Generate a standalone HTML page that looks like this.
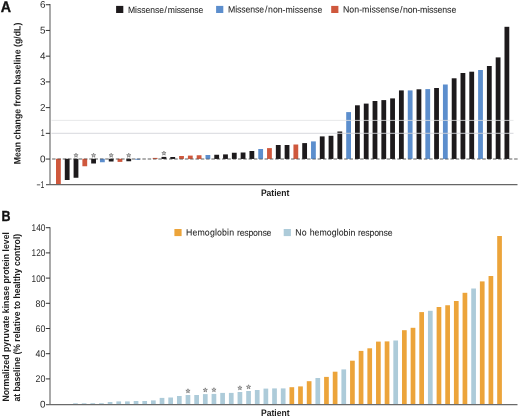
<!DOCTYPE html>
<html lang="en"><head><meta charset="utf-8"><title>Figure</title>
<style>
html,body{margin:0;padding:0;background:#fff;}
body{width:520px;height:418px;overflow:hidden;}
svg{display:block;font-family:"Liberation Sans",sans-serif;text-rendering:geometricPrecision;}
.t{font-size:9.2px;fill:#222;stroke:#222;stroke-width:0.06px;}
.n{font-size:9.7px;fill:#2a2a2a;}
.b{font-size:9.4px;font-weight:bold;fill:#1c1c1c;}
.p{font-size:14.6px;font-weight:bold;fill:#111;stroke:#111;stroke-width:0.35px;}
</style></head><body>
<svg width="520" height="418" viewBox="0 0 520 418">
<rect width="520" height="418" fill="#fff"/>
<g id="panelA">
<text class="p" style="font-size:15.3px" transform="translate(0.80,11.85) rotate(0.03) scale(0.9322,1.0000)">A</text>
<line x1="52.1" y1="159.0" x2="517.6" y2="159.0" stroke="#a9a9a9" stroke-width="1.2" stroke-dasharray="3.45 1.861"/>
<rect x="56.00" y="158.80" width="4.80" height="25.60" fill="#cf583d"/>
<rect x="64.79" y="158.80" width="4.80" height="21.20" fill="#1d1a1c"/>
<rect x="73.59" y="158.80" width="4.80" height="18.95" fill="#1d1a1c"/>
<rect x="82.38" y="158.80" width="4.80" height="7.45" fill="#cf583d"/>
<rect x="91.18" y="158.80" width="4.80" height="4.70" fill="#1d1a1c"/>
<rect x="99.97" y="158.80" width="4.80" height="3.45" fill="#5c8ecd"/>
<rect x="108.76" y="158.80" width="4.80" height="2.70" fill="#1d1a1c"/>
<rect x="117.56" y="158.80" width="4.80" height="3.10" fill="#cf583d"/>
<rect x="126.35" y="158.80" width="4.80" height="2.45" fill="#1d1a1c"/>
<rect x="135.15" y="158.80" width="4.80" height="0.90" fill="#5c8ecd"/>
<rect x="152.73" y="157.90" width="4.80" height="1.05" fill="#cf583d"/>
<rect x="161.53" y="156.90" width="4.80" height="2.05" fill="#1d1a1c"/>
<rect x="170.32" y="157.00" width="4.80" height="1.95" fill="#1d1a1c"/>
<rect x="179.12" y="156.00" width="4.80" height="2.95" fill="#cf583d"/>
<rect x="187.91" y="155.60" width="4.80" height="3.35" fill="#cf583d"/>
<rect x="196.70" y="155.25" width="4.80" height="3.70" fill="#cf583d"/>
<rect x="205.50" y="155.00" width="4.80" height="3.95" fill="#5c8ecd"/>
<rect x="214.29" y="154.75" width="4.80" height="4.20" fill="#1d1a1c"/>
<rect x="223.09" y="154.40" width="4.80" height="4.55" fill="#1d1a1c"/>
<rect x="231.88" y="152.75" width="4.80" height="6.20" fill="#1d1a1c"/>
<rect x="240.67" y="152.50" width="4.80" height="6.45" fill="#1d1a1c"/>
<rect x="249.47" y="151.00" width="4.80" height="7.95" fill="#1d1a1c"/>
<rect x="258.26" y="149.00" width="4.80" height="9.95" fill="#5c8ecd"/>
<rect x="267.06" y="148.10" width="4.80" height="10.85" fill="#cf583d"/>
<rect x="275.85" y="145.00" width="4.80" height="13.95" fill="#1d1a1c"/>
<rect x="284.64" y="145.00" width="4.80" height="13.95" fill="#1d1a1c"/>
<rect x="293.44" y="144.50" width="4.80" height="14.45" fill="#cf583d"/>
<rect x="302.23" y="143.10" width="4.80" height="15.85" fill="#1d1a1c"/>
<rect x="311.03" y="141.40" width="4.80" height="17.55" fill="#5c8ecd"/>
<rect x="319.82" y="136.40" width="4.80" height="22.55" fill="#1d1a1c"/>
<rect x="328.61" y="135.80" width="4.80" height="23.15" fill="#1d1a1c"/>
<rect x="337.41" y="131.50" width="4.80" height="27.45" fill="#1d1a1c"/>
<rect x="346.20" y="112.10" width="4.80" height="46.85" fill="#5c8ecd"/>
<rect x="355.00" y="105.30" width="4.80" height="53.65" fill="#1d1a1c"/>
<rect x="363.79" y="103.60" width="4.80" height="55.35" fill="#1d1a1c"/>
<rect x="372.58" y="101.00" width="4.80" height="57.95" fill="#1d1a1c"/>
<rect x="381.38" y="100.10" width="4.80" height="58.85" fill="#1d1a1c"/>
<rect x="390.17" y="98.40" width="4.80" height="60.55" fill="#1d1a1c"/>
<rect x="398.97" y="90.40" width="4.80" height="68.55" fill="#1d1a1c"/>
<rect x="407.76" y="90.40" width="4.80" height="68.55" fill="#5c8ecd"/>
<rect x="416.55" y="89.30" width="4.80" height="69.65" fill="#1d1a1c"/>
<rect x="425.35" y="89.10" width="4.80" height="69.85" fill="#5c8ecd"/>
<rect x="434.14" y="88.00" width="4.80" height="70.95" fill="#1d1a1c"/>
<rect x="442.94" y="84.50" width="4.80" height="74.45" fill="#5c8ecd"/>
<rect x="451.73" y="78.30" width="4.80" height="80.65" fill="#1d1a1c"/>
<rect x="460.52" y="73.00" width="4.80" height="85.95" fill="#1d1a1c"/>
<rect x="469.32" y="71.70" width="4.80" height="87.25" fill="#1d1a1c"/>
<rect x="478.11" y="70.00" width="4.80" height="88.95" fill="#5c8ecd"/>
<rect x="486.91" y="66.00" width="4.80" height="92.95" fill="#1d1a1c"/>
<rect x="495.70" y="57.40" width="4.80" height="101.55" fill="#1d1a1c"/>
<rect x="504.49" y="26.80" width="4.80" height="132.15" fill="#1d1a1c"/>
<line x1="52.1" y1="159.0" x2="517.6" y2="159.0" stroke="#333" opacity="0.45" stroke-width="1.2" stroke-dasharray="3.45 1.861"/>
<line x1="51.5" y1="120.4" x2="513.5" y2="120.4" stroke="#e1e3e4" stroke-width="0.8"/>
<line x1="51.5" y1="133.3" x2="513.5" y2="133.3" stroke="#d3d5d9" stroke-width="0.9"/>
<polygon points="75.99,153.15 76.52,154.67 78.13,154.70 76.84,155.68 77.31,157.22 75.99,156.30 74.67,157.22 75.13,155.68 73.85,154.70 75.46,154.67" fill="#d0d0d0" stroke="#4a4a4a" stroke-width="0.5"/>
<polygon points="93.58,153.15 94.11,154.67 95.72,154.70 94.43,155.68 94.90,157.22 93.58,156.30 92.25,157.22 92.72,155.68 91.44,154.70 93.05,154.67" fill="#d0d0d0" stroke="#4a4a4a" stroke-width="0.5"/>
<polygon points="111.16,153.15 111.69,154.67 113.30,154.70 112.02,155.68 112.49,157.22 111.16,156.30 109.84,157.22 110.31,155.68 109.02,154.70 110.63,154.67" fill="#d0d0d0" stroke="#4a4a4a" stroke-width="0.5"/>
<polygon points="128.75,153.15 129.28,154.67 130.89,154.70 129.61,155.68 130.07,157.22 128.75,156.30 127.43,157.22 127.90,155.68 126.61,154.70 128.22,154.67" fill="#d0d0d0" stroke="#4a4a4a" stroke-width="0.5"/>
<polygon points="163.93,151.05 164.46,152.57 166.07,152.60 164.78,153.58 165.25,155.12 163.93,154.20 162.61,155.12 163.07,153.58 161.79,152.60 163.40,152.57" fill="#d0d0d0" stroke="#4a4a4a" stroke-width="0.5"/>
<line x1="50" y1="4" x2="50" y2="184.9" stroke="#8c8c8c" stroke-width="1.5"/>
<line x1="46" y1="184.6" x2="517.5" y2="184.6" stroke="#666" stroke-width="1.05"/>
<line x1="45.8" y1="159.05" x2="50" y2="159.05" stroke="#333" stroke-width="1"/>
<line x1="45.8" y1="133.33" x2="50" y2="133.33" stroke="#333" stroke-width="1"/>
<line x1="45.8" y1="107.61" x2="50" y2="107.61" stroke="#333" stroke-width="1"/>
<line x1="45.8" y1="81.89" x2="50" y2="81.89" stroke="#333" stroke-width="1"/>
<line x1="45.8" y1="56.17" x2="50" y2="56.17" stroke="#333" stroke-width="1"/>
<line x1="45.8" y1="30.45" x2="50" y2="30.45" stroke="#333" stroke-width="1"/>
<line x1="45.8" y1="4.73" x2="50" y2="4.73" stroke="#333" stroke-width="1"/>
<text class="n" transform="translate(40.00,7.83) rotate(0.03) scale(1.0195,1.0000)">6</text>
<text class="n" transform="translate(40.00,33.55) rotate(0.03) scale(1.0195,1.0000)">5</text>
<text class="n" transform="translate(40.00,59.27) rotate(0.03) scale(1.0195,1.0000)">4</text>
<text class="n" transform="translate(40.00,84.99) rotate(0.03) scale(1.0195,1.0000)">3</text>
<text class="n" transform="translate(40.00,110.71) rotate(0.03) scale(1.0195,1.0000)">2</text>
<text class="n" transform="translate(40.70,136.43) rotate(0.03) scale(0.7229,1.0000)">1</text>
<text class="n" transform="translate(40.00,162.15) rotate(0.03) scale(1.0195,1.0000)">0</text>
<text class="n" transform="translate(36.40,187.87) rotate(0.03) scale(0.7143,1.0000)">−1</text>
<text class="b" transform="translate(20.40,164.30) rotate(-89.97) scale(0.9343,1.0000)">Mean change from baseline (g/dL)</text>
<text class="b" transform="translate(260.90,195.90) rotate(0.03) scale(0.9126,1.0000)">Patient</text>
<rect x="116.10" y="5.90" width="7.20" height="7.10" fill="#1d1a1c"/>
<text class="t" transform="translate(128.00,12.60) rotate(0.03) scale(0.9318,1.0000)"><tspan style="letter-spacing:-0.041px">Missense</tspan><tspan dx="0.64" style="letter-spacing:1.200px">/</tspan><tspan dx="-0.11" style="letter-spacing:-0.109px">missense</tspan></text>
<rect x="216.10" y="5.90" width="7.20" height="7.10" fill="#5c8ecd"/>
<text class="t" transform="translate(228.00,12.60) rotate(0.03) scale(0.9505,1.0000)"><tspan style="letter-spacing:-0.123px">Missense</tspan><tspan dx="1.16" style="letter-spacing:1.126px">/</tspan><tspan dx="-0.53" style="letter-spacing:-0.012px">non-missense</tspan></text>
<rect x="331.20" y="5.90" width="7.20" height="7.10" fill="#cf583d"/>
<text class="t" transform="translate(343.00,12.60) rotate(0.03) scale(0.9543,1.0000)"><tspan style="letter-spacing:0.025px">Non-missense</tspan><tspan dx="0.73" style="letter-spacing:1.112px">/</tspan><tspan dx="-0.63" style="letter-spacing:-0.118px">non-missense</tspan></text>
</g>
<g id="panelB">
<text class="p" transform="translate(1.40,220.60) rotate(0.03) scale(0.8536,1.0000)">B</text>
<rect x="55.80" y="404.00" width="4.70" height="0.40" fill="#adcbd9"/>
<rect x="64.45" y="404.00" width="4.70" height="0.40" fill="#adcbd9"/>
<rect x="73.11" y="403.30" width="4.70" height="1.10" fill="#adcbd9"/>
<rect x="81.76" y="403.30" width="4.70" height="1.10" fill="#adcbd9"/>
<rect x="90.42" y="403.20" width="4.70" height="1.20" fill="#adcbd9"/>
<rect x="99.07" y="403.20" width="4.70" height="1.20" fill="#adcbd9"/>
<rect x="107.73" y="402.00" width="4.70" height="2.40" fill="#adcbd9"/>
<rect x="116.38" y="401.40" width="4.70" height="3.00" fill="#adcbd9"/>
<rect x="125.04" y="401.40" width="4.70" height="3.00" fill="#adcbd9"/>
<rect x="133.69" y="401.00" width="4.70" height="3.40" fill="#adcbd9"/>
<rect x="142.35" y="401.00" width="4.70" height="3.40" fill="#adcbd9"/>
<rect x="151.00" y="400.40" width="4.70" height="4.00" fill="#adcbd9"/>
<rect x="159.66" y="397.90" width="4.70" height="6.50" fill="#adcbd9"/>
<rect x="168.31" y="397.50" width="4.70" height="6.90" fill="#adcbd9"/>
<rect x="176.97" y="396.00" width="4.70" height="8.40" fill="#adcbd9"/>
<rect x="185.62" y="395.00" width="4.70" height="9.40" fill="#adcbd9"/>
<rect x="194.28" y="395.00" width="4.70" height="9.40" fill="#adcbd9"/>
<rect x="202.94" y="394.10" width="4.70" height="10.30" fill="#adcbd9"/>
<rect x="211.59" y="393.90" width="4.70" height="10.50" fill="#adcbd9"/>
<rect x="220.25" y="392.90" width="4.70" height="11.50" fill="#adcbd9"/>
<rect x="228.90" y="392.90" width="4.70" height="11.50" fill="#adcbd9"/>
<rect x="237.56" y="392.00" width="4.70" height="12.40" fill="#adcbd9"/>
<rect x="246.21" y="391.00" width="4.70" height="13.40" fill="#adcbd9"/>
<rect x="254.87" y="390.00" width="4.70" height="14.40" fill="#adcbd9"/>
<rect x="263.52" y="388.60" width="4.70" height="15.80" fill="#adcbd9"/>
<rect x="272.17" y="388.40" width="4.70" height="16.00" fill="#adcbd9"/>
<rect x="280.83" y="388.40" width="4.70" height="16.00" fill="#adcbd9"/>
<rect x="289.48" y="387.20" width="4.70" height="17.20" fill="#eca43a"/>
<rect x="298.14" y="386.40" width="4.70" height="18.00" fill="#eca43a"/>
<rect x="306.79" y="381.20" width="4.70" height="23.20" fill="#eca43a"/>
<rect x="315.45" y="378.00" width="4.70" height="26.40" fill="#adcbd9"/>
<rect x="324.11" y="376.90" width="4.70" height="27.50" fill="#eca43a"/>
<rect x="332.76" y="371.70" width="4.70" height="32.70" fill="#eca43a"/>
<rect x="341.41" y="369.40" width="4.70" height="35.00" fill="#adcbd9"/>
<rect x="350.07" y="360.70" width="4.70" height="43.70" fill="#eca43a"/>
<rect x="358.72" y="350.90" width="4.70" height="53.50" fill="#eca43a"/>
<rect x="367.38" y="348.30" width="4.70" height="56.10" fill="#eca43a"/>
<rect x="376.03" y="341.60" width="4.70" height="62.80" fill="#eca43a"/>
<rect x="384.69" y="341.40" width="4.70" height="63.00" fill="#eca43a"/>
<rect x="393.34" y="340.50" width="4.70" height="63.90" fill="#adcbd9"/>
<rect x="402.00" y="330.20" width="4.70" height="74.20" fill="#eca43a"/>
<rect x="410.65" y="327.80" width="4.70" height="76.60" fill="#eca43a"/>
<rect x="419.31" y="312.10" width="4.70" height="92.30" fill="#eca43a"/>
<rect x="427.96" y="310.80" width="4.70" height="93.60" fill="#adcbd9"/>
<rect x="436.62" y="307.00" width="4.70" height="97.40" fill="#eca43a"/>
<rect x="445.27" y="305.25" width="4.70" height="99.15" fill="#eca43a"/>
<rect x="453.93" y="301.00" width="4.70" height="103.40" fill="#eca43a"/>
<rect x="462.58" y="292.80" width="4.70" height="111.60" fill="#eca43a"/>
<rect x="471.24" y="288.50" width="4.70" height="115.90" fill="#adcbd9"/>
<rect x="479.89" y="281.40" width="4.70" height="123.00" fill="#eca43a"/>
<rect x="488.55" y="276.00" width="4.70" height="128.40" fill="#eca43a"/>
<rect x="497.20" y="236.00" width="4.70" height="168.40" fill="#eca43a"/>
<polygon points="187.97,388.75 188.50,390.27 190.11,390.30 188.83,391.28 189.30,392.82 187.97,391.90 186.65,392.82 187.12,391.28 185.84,390.30 187.45,390.27" fill="#d0d0d0" stroke="#4a4a4a" stroke-width="0.5"/>
<polygon points="205.28,387.85 205.81,389.37 207.42,389.40 206.14,390.38 206.61,391.92 205.28,391.00 203.96,391.92 204.43,390.38 203.15,389.40 204.76,389.37" fill="#d0d0d0" stroke="#4a4a4a" stroke-width="0.5"/>
<polygon points="213.94,387.65 214.47,389.17 216.08,389.20 214.80,390.18 215.26,391.72 213.94,390.80 212.62,391.72 213.08,390.18 211.80,389.20 213.41,389.17" fill="#d0d0d0" stroke="#4a4a4a" stroke-width="0.5"/>
<polygon points="239.91,385.75 240.43,387.27 242.04,387.30 240.76,388.28 241.23,389.82 239.91,388.90 238.58,389.82 239.05,388.28 237.77,387.30 239.38,387.27" fill="#d0d0d0" stroke="#4a4a4a" stroke-width="0.5"/>
<polygon points="248.56,384.75 249.09,386.27 250.70,386.30 249.42,387.28 249.88,388.82 248.56,387.90 247.24,388.82 247.70,387.28 246.42,386.30 248.03,386.27" fill="#d0d0d0" stroke="#4a4a4a" stroke-width="0.5"/>
<line x1="50" y1="227.3" x2="50" y2="404.9" stroke="#8c8c8c" stroke-width="1.5"/>
<line x1="46" y1="404.65" x2="517.5" y2="404.65" stroke="#6a6a6a" stroke-width="1.1"/>
<line x1="45.8" y1="378.90" x2="50" y2="378.90" stroke="#333" stroke-width="1"/>
<line x1="45.8" y1="353.70" x2="50" y2="353.70" stroke="#333" stroke-width="1"/>
<line x1="45.8" y1="328.50" x2="50" y2="328.50" stroke="#333" stroke-width="1"/>
<line x1="45.8" y1="303.30" x2="50" y2="303.30" stroke="#333" stroke-width="1"/>
<line x1="45.8" y1="278.10" x2="50" y2="278.10" stroke="#333" stroke-width="1"/>
<line x1="45.8" y1="252.90" x2="50" y2="252.90" stroke="#333" stroke-width="1"/>
<line x1="45.8" y1="227.70" x2="50" y2="227.70" stroke="#333" stroke-width="1"/>
<text class="n" transform="translate(40.00,407.50) rotate(0.03) scale(1.0195,1.0000)">0</text>
<text class="n" transform="translate(35.50,382.30) rotate(0.03) scale(0.9083,1.0000)">20</text>
<text class="n" transform="translate(35.50,357.10) rotate(0.03) scale(0.9083,1.0000)">40</text>
<text class="n" transform="translate(35.50,331.90) rotate(0.03) scale(0.9083,1.0000)">60</text>
<text class="n" transform="translate(35.50,306.70) rotate(0.03) scale(0.9083,1.0000)">80</text>
<text class="n" transform="translate(31.60,281.50) rotate(0.03) scale(0.8465,1.0000)">100</text>
<text class="n" transform="translate(31.60,256.30) rotate(0.03) scale(0.8465,1.0000)">120</text>
<text class="n" transform="translate(31.60,231.10) rotate(0.03) scale(0.8465,1.0000)">140</text>
<text class="b" transform="translate(8.90,401.60) rotate(-89.97) scale(0.9324,1.0000)">Normalized pyruvate kinase protein level</text>
<text class="b" transform="translate(19.60,401.60) rotate(-89.97) scale(0.9200,1.0000)">at baseline (% relative to healthy control)</text>
<text class="b" transform="translate(261.00,415.90) rotate(0.03) scale(0.9126,1.0000)">Patient</text>
<rect x="174.40" y="229.00" width="7.20" height="7.10" fill="#eca43a"/>
<text class="t" transform="translate(185.90,235.60) rotate(0.03) scale(0.9531,1.0000)"><tspan style="letter-spacing:0.169px">Hemoglobin </tspan><tspan dx="0.10" style="letter-spacing:-0.232px">response</tspan></text>
<rect x="283.70" y="229.00" width="7.20" height="7.10" fill="#adcbd9"/>
<text class="t" transform="translate(295.00,235.60) rotate(0.03) scale(0.9512,1.0000)"><tspan dx="0.21" style="letter-spacing:0.344px">No </tspan><tspan dx="-0.11" style="letter-spacing:0.050px">hemoglobin </tspan><tspan dx="0.11" style="letter-spacing:-0.197px">response</tspan></text>
</g>
</svg></body></html>
